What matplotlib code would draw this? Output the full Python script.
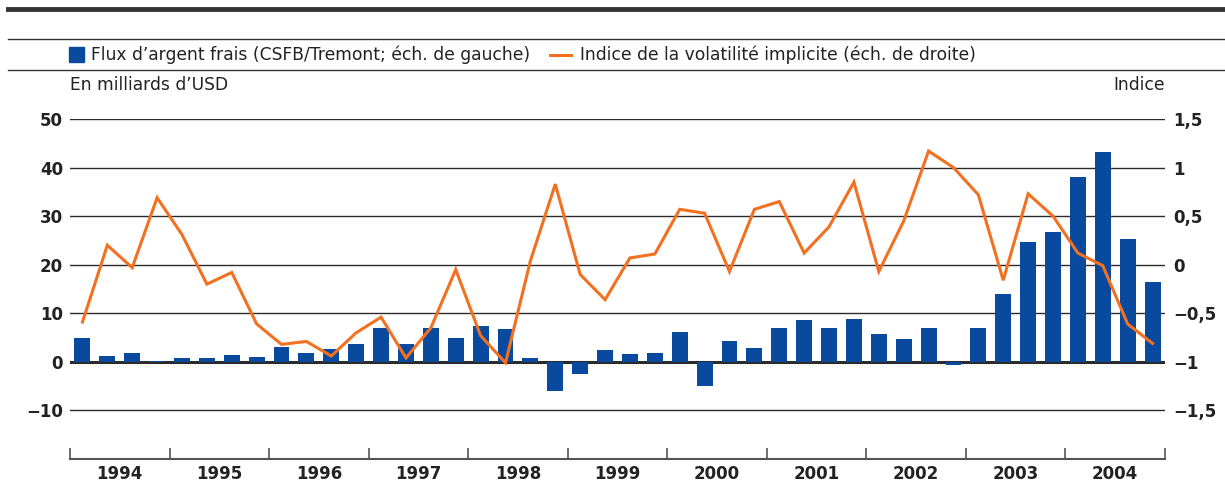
import matplotlib
matplotlib.use("Agg")
import matplotlib.pyplot as plt
from matplotlib.lines import Line2D
from matplotlib.patches import Rectangle

# quarterly data 1994 Q1 - 2004 Q4
years = ["1994", "1995", "1996", "1997", "1998", "1999",
         "2000", "2001", "2002", "2003", "2004"]

flux = [4.9, 1.2, 1.8, 0.2, 0.8, 0.8, 1.4, 1.0,
        3.1, 1.8, 2.7, 3.7, 7.0, 3.7, 7.0, 4.9,
        7.4, 6.8, 0.8, -5.9, -2.5, 2.5, 1.6, 1.8,
        6.1, -4.9, 4.3, 2.9, 7.0, 8.6, 7.0, 8.8,
        5.7, 4.7, 7.0, -0.6, 7.0, 13.9, 24.6, 26.8,
        38.1, 43.2, 25.2, 16.4]

volat = [-0.59, 0.20, -0.03, 0.69, 0.31, -0.20, -0.08, -0.61,
         -0.82, -0.79, -0.94, -0.70, -0.54, -0.96, -0.65, -0.05,
         -0.73, -1.01, 0.04, 0.83, -0.10, -0.36, 0.07, 0.11,
         0.57, 0.53, -0.07, 0.57, 0.65, 0.12, 0.39, 0.85,
         -0.07, 0.45, 1.17, 1.00, 0.72, -0.16, 0.73, 0.50,
         0.12, -0.01, -0.61, -0.81]

left_ticks = [50, 40, 30, 20, 10, 0, -10]
right_ticks = [1.5, 1, 0.5, 0, -0.5, -1, -1.5]
right_labels = ["1,5", "1", "0,5", "0", "\u22120,5", "\u22121", "\u22121,5"]

BLUE = "#0A4A9E"
ORANGE = "#F37021"
DARK = "#2b2b2b"
TXT = "#222222"

plt.rcParams["font.family"] = ["DejaVu Sans"]
base = 12.3
tick_size = 12

W, H = 1225, 486
fig = plt.figure(figsize=(W / 100, H / 100), dpi=100)


def fx(px):
    return px / W


def fy(py):
    return 1 - py / H


ax = fig.add_axes([fx(70), fy(459), fx(1165) - fx(70), fy(119) - fy(459)])
ax2 = ax.twinx()

x = list(range(len(flux)))

for v in left_ticks:
    ax.axhline(v, color=DARK, lw=2.2 if v == 0 else 1.0, zorder=1)

ax.bar(x, flux, width=0.64, color=BLUE, zorder=2)
ax2.plot(x, volat, color=ORANGE, lw=2.2, solid_joinstyle="miter")

ax.set_xlim(-0.5, len(flux) - 0.5)
ax.set_ylim(-20, 50)
ax2.set_ylim(-2, 1.5)

for a in (ax, ax2):
    for s in ("top", "left", "right"):
        a.spines[s].set_visible(False)
ax2.spines["bottom"].set_visible(False)
ax.spines["bottom"].set_color("#555555")
ax.spines["bottom"].set_linewidth(1.5)

ax.set_yticks(left_ticks)
ax.set_yticklabels([str(v).replace("-", "\u2212") for v in left_ticks],
                   fontweight="bold", fontsize=tick_size)
ax.tick_params(axis="y", length=0, pad=5, colors=TXT)

ax2.set_yticks(right_ticks)
ax2.set_yticklabels(right_labels, fontweight="bold", fontsize=tick_size)
ax2.tick_params(axis="y", length=0, pad=6, colors=TXT)

ax.set_xticks([i * 4 - 0.5 for i in range(len(years) + 1)])
ax.set_xticklabels([])
ax.set_xticks([i * 4 + 1.5 for i in range(len(years))], minor=True)
ax.set_xticklabels(years, minor=True, fontweight="bold", fontsize=tick_size)
ax.tick_params(axis="x", which="major", direction="in", length=8,
               width=1.2, color="#555555")
ax.tick_params(axis="x", which="minor", length=0, pad=4, colors=TXT)

# header rules
fig.add_artist(Line2D([fx(8), 1], [fy(9), fy(9)], color="#333333", lw=3.5))
fig.add_artist(Line2D([fx(8), 1], [fy(39), fy(39)], color="#333333", lw=1.0))
fig.add_artist(Line2D([fx(8), 1], [fy(70), fy(70)], color="#333333", lw=1.0))

# legend
fig.add_artist(Rectangle((fx(69), fy(62)), fx(15), fy(47) - fy(62),
                         color=BLUE, transform=fig.transFigure))
fig.text(fx(91), fy(55), "Flux d\u2019argent frais (CSFB/Tremont; \u00e9ch. de gauche)",
         fontsize=base, va="center", ha="left", color=TXT)
fig.add_artist(Line2D([fx(550), fx(571)], [fy(55), fy(55)], color=ORANGE, lw=2.2))
fig.text(fx(580), fy(55), "Indice de la volatilit\u00e9 implicite (\u00e9ch. de droite)",
         fontsize=base, va="center", ha="left", color=TXT)

fig.text(fx(70), fy(85), "En milliards d\u2019USD", fontsize=base,
         va="center", ha="left", color=TXT)
fig.text(fx(1165), fy(85), "Indice", fontsize=base,
         va="center", ha="right", color=TXT)

fig.savefig("out.png", dpi=100)
